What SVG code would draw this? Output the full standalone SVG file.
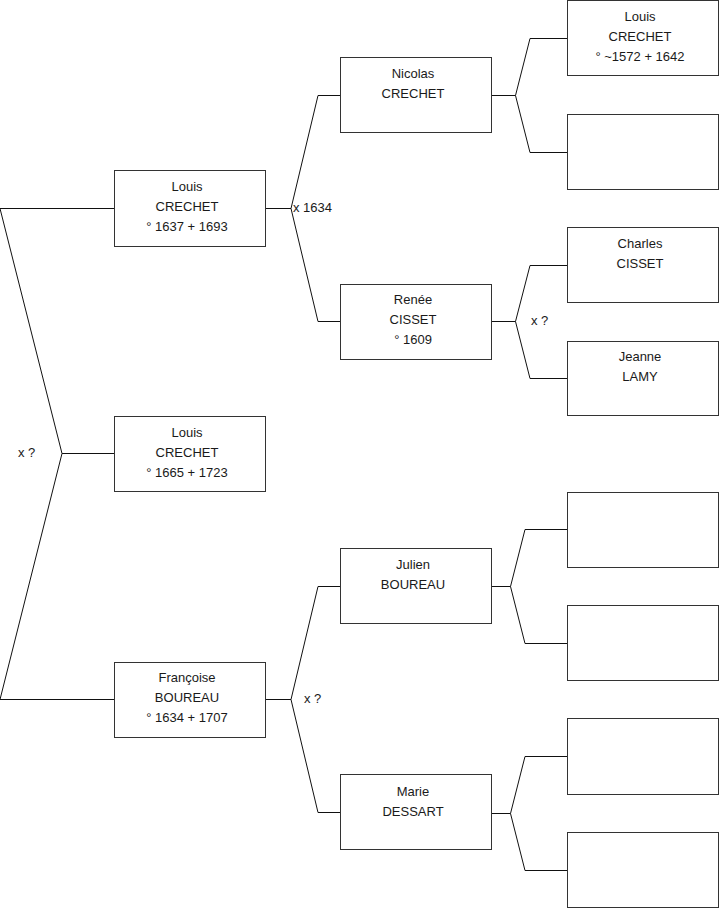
<svg xmlns="http://www.w3.org/2000/svg" width="719" height="908" viewBox="0 0 719 908">
<style>
.box{fill:#fff;stroke:#333;stroke-width:1}
.ln{fill:none;stroke:#111;stroke-width:1}
text{font-family:"Liberation Sans",Arial,sans-serif;font-size:13px;fill:#1a1a1a}
.c{text-anchor:middle}
</style>
<rect width="719" height="908" fill="#fff"/>
<g id="connectors">
<polyline class="ln" points="114,208.5 0,208.5 62,453.5 0,699.5 114,699.5"/>
<line class="ln" x1="62" y1="453.5" x2="114" y2="453.5"/>
<polyline class="ln" points="340,95.5 318,95.5 291,208.5 318,321.5 340,321.5"/>
<line class="ln" x1="265" y1="208.5" x2="291" y2="208.5"/>
<polyline class="ln" points="340,586.5 318,586.5 291,699.5 318,812.5 340,812.5"/>
<line class="ln" x1="265" y1="699.5" x2="291" y2="699.5"/>
<polyline class="ln" points="567,38.5 530,38.5 515.5,95.5 530,152.5 567,152.5"/>
<line class="ln" x1="491" y1="95.5" x2="515.5" y2="95.5"/>
<polyline class="ln" points="567,265.5 530,265.5 515.5,321.5 530,378.5 567,378.5"/>
<line class="ln" x1="491" y1="321.5" x2="515.5" y2="321.5"/>
<polyline class="ln" points="567,529.5 525,529.5 510.5,586.5 525,643.5 567,643.5"/>
<line class="ln" x1="491" y1="586.5" x2="510.5" y2="586.5"/>
<polyline class="ln" points="567,756.5 525,756.5 510.5,813.5 525,870.5 567,870.5"/>
<line class="ln" x1="491" y1="813.5" x2="510.5" y2="813.5"/>
<text x="18" y="457">x ?</text>
<text x="293" y="212">x 1634</text>
<text x="304" y="703">x ?</text>
<text x="531" y="325">x ?</text>
</g>
<g id="n-louis-1637">
<rect class="box" x="114.5" y="170.5" width="151" height="76"/>
<text class="c" x="187" y="191">Louis</text>
<text class="c" x="187" y="211">CRECHET</text>
<text class="c" x="187" y="231">° 1637 + 1693</text>
</g>
<g id="n-louis-1665">
<rect class="box" x="114.5" y="416.5" width="151" height="75"/>
<text class="c" x="187" y="437">Louis</text>
<text class="c" x="187" y="457">CRECHET</text>
<text class="c" x="187" y="477">° 1665 + 1723</text>
</g>
<g id="n-francoise">
<rect class="box" x="114.5" y="662.5" width="151" height="75"/>
<text class="c" x="187" y="682">Françoise</text>
<text class="c" x="187" y="702">BOUREAU</text>
<text class="c" x="187" y="722">° 1634 + 1707</text>
</g>
<g id="n-nicolas">
<rect class="box" x="340.5" y="57.5" width="151" height="75"/>
<text class="c" x="413" y="78">Nicolas</text>
<text class="c" x="413" y="98">CRECHET</text>
</g>
<g id="n-renee">
<rect class="box" x="340.5" y="284.5" width="151" height="75"/>
<text class="c" x="413" y="304">Renée</text>
<text class="c" x="413" y="324">CISSET</text>
<text class="c" x="413" y="344">° 1609</text>
</g>
<g id="n-julien">
<rect class="box" x="340.5" y="548.5" width="151" height="75"/>
<text class="c" x="413" y="569">Julien</text>
<text class="c" x="413" y="589">BOUREAU</text>
</g>
<g id="n-marie">
<rect class="box" x="340.5" y="774.5" width="151" height="75"/>
<text class="c" x="413" y="796">Marie</text>
<text class="c" x="413" y="816">DESSART</text>
</g>
<g id="n-louis-1572">
<rect class="box" x="567.5" y="0.5" width="151" height="75"/>
<text class="c" x="640" y="21">Louis</text>
<text class="c" x="640" y="41">CRECHET</text>
<text class="c" x="640" y="61">° ~1572 + 1642</text>
</g>
<g id="n-empty-1">
<rect class="box" x="567.5" y="114.5" width="151" height="75"/>
</g>
<g id="n-charles">
<rect class="box" x="567.5" y="227.5" width="151" height="75"/>
<text class="c" x="640" y="248">Charles</text>
<text class="c" x="640" y="268">CISSET</text>
</g>
<g id="n-jeanne">
<rect class="box" x="567.5" y="341.5" width="151" height="74"/>
<text class="c" x="640" y="361">Jeanne</text>
<text class="c" x="640" y="381">LAMY</text>
</g>
<g id="n-empty-2">
<rect class="box" x="567.5" y="492.5" width="151" height="75"/>
</g>
<g id="n-empty-3">
<rect class="box" x="567.5" y="605.5" width="151" height="75"/>
</g>
<g id="n-empty-4">
<rect class="box" x="567.5" y="718.5" width="151" height="76"/>
</g>
<g id="n-empty-5">
<rect class="box" x="567.5" y="832.5" width="151" height="75"/>
</g>
</svg>
